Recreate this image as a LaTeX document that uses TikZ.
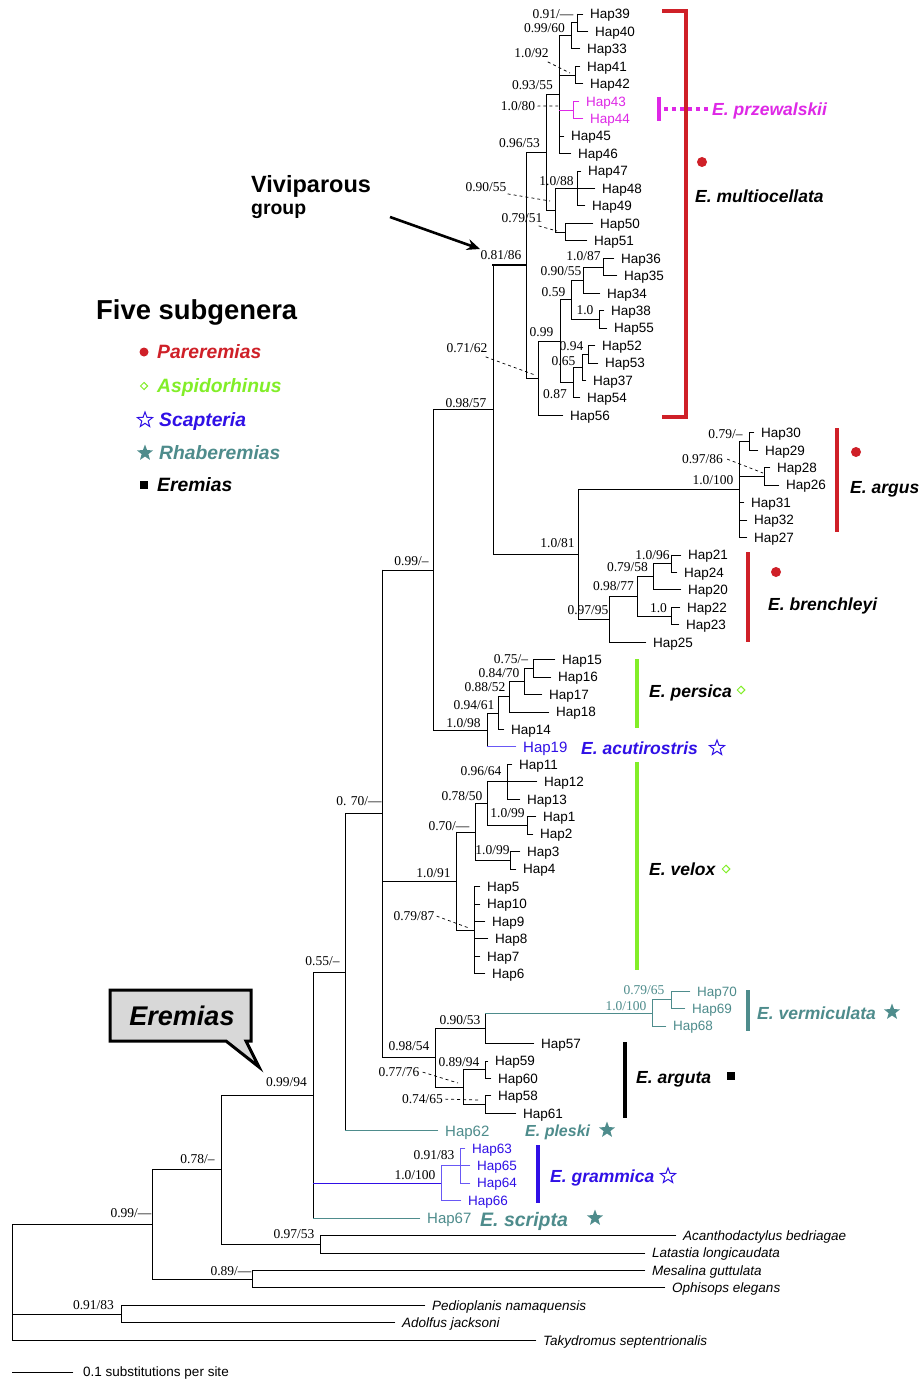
\documentclass[tikz,border=0pt]{standalone}
\usepackage{fontspec}
\setmainfont{Liberation Serif}
\setsansfont{Liberation Sans}
\usetikzlibrary{calc,shapes.geometric,arrows.meta}
\definecolor{cred}{RGB}{207,32,40}
\definecolor{cmag}{RGB}{222,40,230}
\definecolor{cgreen}{RGB}{130,238,40}
\definecolor{cblue}{RGB}{48,16,230}
\definecolor{clblue}{RGB}{105,88,245}
\definecolor{cteal}{RGB}{78,140,140}
\definecolor{cgray}{RGB}{216,216,216}
\newcommand\tipn[5][]{\coordinate (t#2) at ({#3-7},{14+17.45*#4}); \node[tip,#1] (L#2) at (#3,{14+17.45*#4}) {#5};}
\newcommand\inode[5][]{\path let \p1=($(#4)!.5!(#5)$) in (#3pt,\y1) coordinate (#2); \draw[br,#1] (#2 |- #4) -- (#2 |- #5);}
\newcommand\hl[3][]{\draw[br,#1] (#2 |- #3) -- (#3);}
\newcommand\sv[5][]{\node[sup,#1] (#2) at (#3,#4) {#5};}
\begin{document}
\begin{tikzpicture}[x=1pt,y=-1pt,
 br/.style={line width=0.9pt, line cap=rect},
 tip/.style={font=\sffamily\fontsize{13.5}{16}\selectfont, anchor=base west, inner sep=0pt, yshift=-4.8pt},
 tipi/.style={font=\sffamily\itshape\fontsize{13.5}{16}\selectfont},
 tipb/.style={font=\sffamily\fontsize{15}{17}\selectfont, yshift=-0.5pt},
 sup/.style={font=\fontsize{13.5}{16}\selectfont, anchor=base, inner sep=0pt, yshift=-4.5pt},
 clade/.style={font=\sffamily\bfseries\itshape\fontsize{17.5}{20}\selectfont, anchor=base west, inner sep=0pt, yshift=-6.3pt},
 leg/.style={font=\sffamily\bfseries\itshape\fontsize{19.3}{22}\selectfont, anchor=base west, inner sep=0pt, yshift=-6.9pt},
 bar/.style={line width=4pt},
 dsh/.style={line width=0.7pt, dash pattern=on 3pt off 3pt},
 dot/.style={circle, fill=cred, minimum size=10pt, inner sep=0pt},
 dia/.style={diamond, draw=cgreen, line width=1pt, minimum size=8pt, inner sep=0pt},
 ostar/.style={star, star points=5, star point ratio=2.4, draw=cblue, line width=1pt, minimum size=16pt, inner sep=0pt},
 fstar/.style={star, star points=5, star point ratio=2.4, fill=cteal, minimum size=17pt, inner sep=0pt},
 sq/.style={rectangle, fill=black, minimum size=8pt, inner sep=0pt}]
\useasboundingbox[fill=white] (0,0) rectangle (922,1380);

% ---------------- tips ----------------
\tipn{39}{590}{0}{Hap39}
\tipn{40}{595}{1}{Hap40}
\tipn{33}{587}{2}{Hap33}
\tipn{41}{587}{3}{Hap41}
\tipn{42}{590}{4}{Hap42}
\tipn[cmag]{43}{586}{5}{Hap43}
\tipn[cmag]{44}{590}{6}{Hap44}
\tipn{45}{571}{7}{Hap45}
\tipn{46}{578}{8}{Hap46}
\tipn{47}{588}{9}{Hap47}
\tipn{48}{602}{10}{Hap48}
\tipn{49}{592}{11}{Hap49}
\tipn{50}{600}{12}{Hap50}
\tipn{51}{594}{13}{Hap51}
\tipn{36}{621}{14}{Hap36}
\tipn{35}{624}{15}{Hap35}
\tipn{34}{607}{16}{Hap34}
\tipn{38}{611}{17}{Hap38}
\tipn{55}{614}{18}{Hap55}
\tipn{52}{602}{19}{Hap52}
\tipn{53}{605}{20}{Hap53}
\tipn{37}{593}{21}{Hap37}
\tipn{54}{587}{22}{Hap54}
\tipn{56}{570}{23}{Hap56}
\tipn{30}{761}{24}{Hap30}
\tipn{29}{765}{25}{Hap29}
\tipn{28}{777}{26}{Hap28}
\tipn{26}{786}{27}{Hap26}
\tipn{31}{751}{28}{Hap31}
\tipn{32}{754}{29}{Hap32}
\tipn{27}{754}{30}{Hap27}
\tipn{21}{688}{31}{Hap21}
\tipn{24}{684}{32}{Hap24}
\tipn{20}{688}{33}{Hap20}
\tipn{22}{687}{34}{Hap22}
\tipn{23}{686}{35}{Hap23}
\tipn{25}{653}{36}{Hap25}
\tipn{15}{562}{37}{Hap15}
\tipn{16}{558}{38}{Hap16}
\tipn{17}{549}{39}{Hap17}
\tipn{18}{556}{40}{Hap18}
\tipn{14}{511}{41}{Hap14}
\tipn[cblue,tipb]{19}{523}{42}{Hap19}
\tipn{11}{519}{43}{Hap11}
\tipn{12}{544}{44}{Hap12}
\tipn{13}{527}{45}{Hap13}
\tipn{1}{543}{46}{Hap1}
\tipn{2}{540}{47}{Hap2}
\tipn{3}{527}{48}{Hap3}
\tipn{4}{523}{49}{Hap4}
\tipn{5}{487}{50}{Hap5}
\tipn{10}{487}{51}{Hap10}
\tipn{9}{492}{52}{Hap9}
\tipn{8}{495}{53}{Hap8}
\tipn{7}{487}{54}{Hap7}
\tipn{6}{492}{55}{Hap6}
\tipn[cteal]{70}{697}{56}{Hap70}
\tipn[cteal]{69}{692}{57}{Hap69}
\tipn[cteal]{68}{673}{58}{Hap68}
\tipn{57}{541}{59}{Hap57}
\tipn{59}{495}{60}{Hap59}
\tipn{60}{498}{61}{Hap60}
\tipn{58}{498}{62}{Hap58}
\tipn{61}{523}{63}{Hap61}
\tipn[cteal,tipb]{62}{445}{64}{Hap62}
\tipn[cblue]{63}{472}{65}{Hap63}
\tipn[cblue]{65}{477}{66}{Hap65}
\tipn[cblue]{64}{477}{67}{Hap64}
\tipn[cblue]{66}{468}{68}{Hap66}
\tipn[cteal,tipb]{67}{427}{69}{Hap67}
\tipn[tipi]{Aca}{683}{70}{Acanthodactylus bedriagae}
\tipn[tipi]{Lat}{652}{71}{Latastia longicaudata}
\tipn[tipi]{Mes}{652}{72}{Mesalina guttulata}
\tipn[tipi]{Oph}{672}{73}{Ophisops elegans}
\tipn[tipi]{Ped}{432}{74}{Pedioplanis namaquensis}
\tipn[tipi]{Ado}{402}{75}{Adolfus jacksoni}
\tipn[tipi]{Tak}{543}{76}{Takydromus septentrionalis}

% ---------------- tree ----------------
\inode{nA}{577}{t39}{t40} \hl{nA}{t39} \hl{nA}{t40}
\inode{nB}{571}{nA}{t33} \hl{nB}{nA} \hl{nB}{t33}
\inode{nD}{575}{t41}{t42} \hl{nD}{t41} \hl{nD}{t42}
\inode[cmag]{nM}{573}{t43}{t44} \hl[cmag]{nM}{t43} \hl[cmag]{nM}{t44}
\inode{nC}{559}{nB}{t46} \hl{nC}{nB} \hl{nC}{nD} \hl[cmag]{nC}{nM} \hl{nC}{t45} \hl{nC}{t46}
\inode{nH}{577}{t47}{t49} \hl{nH}{t47} \hl{nH}{t48} \hl{nH}{t49}
\inode{nS}{565}{t50}{t51} \hl{nS}{t50} \hl{nS}{t51}
\inode{nF}{555}{nH}{nS} \hl{nF}{nH} \hl{nF}{nS}
\inode{nE}{546}{nC}{nF} \hl{nE}{nC} \hl{nE}{nF}
\inode{nO}{603}{t36}{t35} \hl{nO}{t36} \hl{nO}{t35}
\inode{nMM}{583}{nO}{t34} \hl{nMM}{nO} \hl{nMM}{t34}
\inode{nN}{599}{t38}{t55} \hl{nN}{t38} \hl{nN}{t55}
\inode{nK}{571}{nMM}{nN} \hl{nK}{nMM} \hl{nK}{nN}
\inode{nR}{588}{t52}{t53} \hl{nR}{t52} \hl{nR}{t53}
\inode{nQ}{582}{nR}{t37} \hl{nQ}{nR} \hl{nQ}{t37}
\inode{nP}{573}{nQ}{t54} \hl{nP}{nQ} \hl{nP}{t54}
\inode{nJ}{560}{nK}{nP} \hl{nJ}{nK} \hl{nJ}{nP}
\inode{nI}{538}{nJ}{t56} \hl{nI}{nJ} \hl{nI}{t56}
\inode{nG}{526}{nE}{nI} \hl{nG}{nE} \hl{nG}{nI}
\inode{nZ}{749}{t30}{t29} \hl{nZ}{t30} \hl{nZ}{t29}
\inode{nAA}{764}{t28}{t26} \hl{nAA}{t28} \hl{nAA}{t26}
\inode{nY}{739}{nZ}{t27} \hl{nY}{nZ} \hl{nY}{nAA} \hl{nY}{t31} \hl{nY}{t32} \hl{nY}{t27}
\inode{nAE}{671}{t21}{t24} \hl{nAE}{t21} \hl{nAE}{t24}
\inode{nAC}{653}{nAE}{t20} \hl{nAC}{nAE} \hl{nAC}{t20}
\inode{nAD}{671}{t22}{t23} \hl{nAD}{t22} \hl{nAD}{t23}
\inode{nAB}{637}{nAC}{nAD} \hl{nAB}{nAC} \hl{nAB}{nAD}
\inode{nX}{609}{nAB}{t25} \hl{nX}{nAB} \hl{nX}{t25}
\inode{nW}{578}{nY}{nX} \hl{nW}{nY} \hl{nW}{nX}
\inode{nV}{493}{nG}{nW} \hl[line width=2.2pt]{nV}{nG} \hl{nV}{nW}
\inode{nHH}{533}{t15}{t16} \hl{nHH}{t15} \hl{nHH}{t16}
\inode{nGG}{524}{nHH}{t17} \hl{nGG}{nHH} \hl{nGG}{t17}
\inode{nFF}{509}{nGG}{t18} \hl{nFF}{nGG} \hl{nFF}{t18}
\inode{nEE}{498}{nFF}{t14} \hl{nEE}{nFF} \hl{nEE}{t14}
\inode{nCC}{487}{nEE}{t19} \hl{nCC}{nEE} \hl[clblue]{nCC}{t19}
\inode{nBB}{433}{nV}{nCC} \hl{nBB}{nV} \hl{nBB}{nCC}
\inode{nVV}{507}{t11}{t13} \hl{nVV}{t11} \hl{nVV}{t12} \hl{nVV}{t13}
\inode{nWW}{527}{t1}{t2} \hl{nWW}{t1} \hl{nWW}{t2}
\inode{nTT}{487}{nVV}{nWW} \hl{nTT}{nVV} \hl{nTT}{nWW}
\inode{nUU}{510}{t3}{t4} \hl{nUU}{t3} \hl{nUU}{t4}
\inode{nRR}{475}{nTT}{nUU} \hl{nRR}{nTT} \hl{nRR}{nUU}
\inode{nSS}{474}{t5}{t6} \hl{nSS}{t5} \hl{nSS}{t10} \hl{nSS}{t9} \hl{nSS}{t8} \hl{nSS}{t7} \hl{nSS}{t6}
\inode{nII}{456}{nRR}{nSS} \hl{nII}{nRR} \hl{nII}{nSS}
\inode[cteal]{nV70}{671}{t70}{t69} \hl[cteal]{nV70}{t70} \hl[cteal]{nV70}{t69}
\inode[cteal]{nVm}{652}{nV70}{t68} \hl[cteal]{nVm}{nV70} \hl[cteal]{nVm}{t68}
\inode{nPP}{485}{nVm}{t57} \hl[cteal]{nPP}{nVm} \hl{nPP}{t57}
\inode{nA59}{485}{t59}{t60} \hl{nA59}{t59} \hl{nA59}{t60}
\inode{nA58}{485}{t58}{t61} \hl{nA58}{t58} \hl{nA58}{t61}
\inode{nQQ}{463}{nA59}{nA58} \hl{nQQ}{nA59} \hl{nQQ}{nA58}
\inode{nOO}{435}{nPP}{nQQ} \hl{nOO}{nPP} \hl{nOO}{nQQ}
\inode{nNN}{382}{nBB}{nOO} \hl{nNN}{nBB} \hl{nNN}{nII} \hl{nNN}{nOO}
\inode{nKK}{345}{nNN}{t62} \hl{nKK}{nNN} \hl[cteal]{nKK}{t62}
\inode[clblue]{nG3}{460}{t63}{t64} \hl[clblue]{nG3}{t63} \hl[clblue]{nG3}{t65} \hl[clblue]{nG3}{t64}
\inode[clblue]{nGr}{441}{nG3}{t66} \hl[clblue]{nGr}{nG3} \hl[clblue]{nGr}{t66}
\inode{nLL}{313}{nKK}{t67} \hl{nLL}{nKK} \hl[cblue]{nLL}{nGr} \hl[cteal]{nLL}{t67}
\inode{nYY}{320}{tAca}{tLat} \hl{nYY}{tAca} \hl{nYY}{tLat}
\inode{nXX}{221}{nLL}{nYY} \hl{nXX}{nLL} \hl{nXX}{nYY}
\inode{nAAA}{252}{tMes}{tOph} \hl{nAAA}{tMes} \hl{nAAA}{tOph}
\inode{nZZ}{152}{nXX}{nAAA} \hl{nZZ}{nXX} \hl{nZZ}{nAAA}
\inode{nBBB}{121}{tPed}{tAdo} \hl{nBBB}{tPed} \hl{nBBB}{tAdo}
\inode{nRoot}{12}{nZZ}{tTak} \hl{nRoot}{nZZ} \hl{nRoot}{nBBB} \hl{nRoot}{tTak}

% ---------------- support values ----------------
\sv{s1}{553}{14}{0.91/—}
\sv{s2}{544.5}{28}{0.99/60}
\sv{s3}{531.5}{53}{1.0/92}
\sv{s4}{532.5}{85}{0.93/55}
\sv{s5}{518}{106}{1.0/80}
\sv{s6}{519.5}{143}{0.96/53}
\sv{s7}{556.5}{181}{1.0/88}
\sv{s8}{486}{187}{0.90/55}
\sv{s9}{522}{218}{0.79/51}
\sv{s10}{501}{255}{0.81/86}
\sv{s11}{583.5}{256}{1.0/87}
\sv{s12}{561}{271}{0.90/55}
\sv{s13}{553.5}{292}{0.59}
\sv{s14}{585}{310}{1.0}
\sv{s15}{541.5}{332}{0.99}
\sv{s16}{467}{348}{0.71/62}
\sv{s17}{571.5}{346}{0.94}
\sv{s18}{563.5}{361}{0.65}
\sv{s19}{555}{394}{0.87}
\sv{s20}{466}{403}{0.98/57}
\sv{s21}{725.5}{434}{0.79/–}
\sv{s22}{702.5}{459}{0.97/86}
\sv{s23}{713}{480}{1.0/100}
\sv{s24}{557.5}{543}{1.0/81}
\sv{s25}{652.5}{555}{1.0/96}
\sv{s26}{627.5}{567}{0.79/58}
\sv{s27}{613.5}{586}{0.98/77}
\sv{s28}{658.5}{608}{1.0}
\sv{s29}{588}{610}{0.97/95}
\sv{s30}{511}{659}{0.75/–}
\sv{s31}{499}{673}{0.84/70}
\sv{s32}{485}{687}{0.88/52}
\sv{s33}{474}{705}{0.94/61}
\sv{s34}{463.5}{723}{1.0/98}
\sv{s35}{411.5}{561}{0.99/–}
\sv{s36}{481}{771}{0.96/64}
\sv{s37}{462}{796}{0.78/50}
\sv{s38}{507.5}{813}{1.0/99}
\sv{s39}{449}{826}{0.70/—}
\sv{s40}{492.5}{850}{1.0/99}
\sv{s41}{433.5}{873}{1.0/91}
\sv{s42}{414}{916}{0.79/87}
\sv{s43}{359}{801}{0. 70/—}
\sv{s44}{322.5}{961}{0.55/–}
\sv[cteal]{s45}{644}{990}{0.79/65}
\sv[cteal]{s46}{626}{1006}{1.0/100}
\sv{s47}{460}{1020}{0.90/53}
\sv{s48}{409}{1046}{0.98/54}
\sv{s49}{459}{1062}{0.89/94}
\sv{s50}{399}{1072}{0.77/76}
\sv{s51}{422.5}{1099}{0.74/65}
\sv{s52}{286.5}{1082}{0.99/94}
\sv{s53}{434}{1155}{0.91/83}
\sv{s54}{415}{1175}{1.0/100}
\sv{s55}{197.5}{1159}{0.78/–}
\sv{s56}{131}{1213}{0.99/—}
\sv{s57}{294}{1234}{0.97/53}
\sv{s58}{231}{1271}{0.89/—}
\sv{s59}{93.5}{1305}{0.91/83}

% dashed pointers
\coordinate (p3) at (570,73);
\coordinate (p5) at (558,106);
\coordinate (p8) at (550,201);
\coordinate (p9) at (557,231);
\coordinate (p16) at (535,375);
\coordinate (p22) at (763,473);
\coordinate (p42) at (469,928);
\coordinate (p50) at (458,1083);
\coordinate (p51) at (478,1100);
\draw[dsh] ([xshift=-1pt,yshift=-4pt]s3.south east) -- (p3);
\draw[dsh] ([xshift=2pt]s5.east) -- (p5);
\draw[dsh] ([xshift=1pt,yshift=-2pt]s8.south east) -- (p8);
\draw[dsh] ([xshift=-4pt,yshift=-3pt]s9.south east) -- (p9);
\draw[dsh] ([xshift=-2pt,yshift=-4pt]s16.south east) -- (p16);
\draw[dsh] ([xshift=4pt]s22.east) -- (p22);
\draw[dsh] ([xshift=2pt]s42.east) -- (p42);
\draw[dsh] ([xshift=3pt]s50.east) -- (p50);
\draw[dsh] ([xshift=2pt]s51.east) -- (p51);

% ---------------- clade bars and labels ----------------
\draw[cred,bar] (662,11) -- (686,11) -- (686,417) -- (662,417);
\draw[cmag,bar] (659,97) -- (659,121);
\draw[cmag,line width=3.5pt,dash pattern=on 4pt off 4pt] (664,109) -- (708,109);
\node[clade,cmag] (Lprz) at (712,109) {E. przewalskii};
\node[dot] (d1) at (702,162) {};
\node[clade] (Lmul) at (695,196) {E. multiocellata};
\draw[cred,bar] (837,428) -- (837,532);
\node[dot] (d2) at (856,452) {};
\node[clade] (Larg) at (850,487) {E. argus};
\draw[cred,bar] (748,552) -- (748,642);
\node[dot] (d3) at (776,572) {};
\node[clade] (Lbre) at (768,604) {E. brenchleyi};
\draw[cgreen,bar] (637,659) -- (637,728);
\node[clade] (Lper) at (649,691) {E. persica};
\node[dia] (g1) at (741,690) {};
\node[clade,cblue] (Lacu) at (581,748) {E. acutirostris};
\node[ostar] (b1) at (717,748) {};
\draw[cgreen,bar] (637,762) -- (637,970);
\node[clade] (Lvel) at (649,869) {E. velox};
\node[dia] (g2) at (726,869) {};
\draw[cteal,bar] (748,990) -- (748,1031);
\node[clade,cteal] (Lver) at (757,1013) {E. vermiculata};
\node[fstar] (f1) at (892,1012) {};
\draw[black,bar] (625,1042) -- (625,1118);
\node[clade] (Largu) at (636,1077) {E. arguta};
\node[sq] (q1) at (731,1076) {};
\node[clade,cteal,font=\sffamily\bfseries\itshape\fontsize{16}{19}\selectfont,yshift=0.5pt] (Lple) at (525,1131) {E. pleski};
\node[fstar] (f2) at (607,1130) {};
\draw[cblue,bar] (538,1145) -- (538,1203);
\node[clade,cblue] (Lgra) at (550,1176) {E. grammica};
\node[ostar] (b2) at (668,1176) {};
\node[clade,cteal,font=\sffamily\bfseries\itshape\fontsize{19.5}{22}\selectfont,yshift=-0.7pt] (Lscr) at (480,1219) {E. scripta};
\node[fstar] (f3) at (595,1218) {};

% ---------------- viviparous ----------------
\node[font=\sffamily\bfseries\fontsize{23.5}{26}\selectfont, anchor=base west, inner sep=0pt] (viv) at (251,192.5) {Viviparous};
\node[font=\sffamily\bfseries\fontsize{19.4}{22}\selectfont, anchor=base west, inner sep=0pt] (grp) at (251,215) {group};
\coordinate (va) at (390,217);
\coordinate (vb) at (480,249);
\draw[line width=2.6pt, -{Stealth[length=13pt,width=11pt]}] (va) -- (vb);

% ---------------- legend ----------------
\node[font=\sffamily\bfseries\fontsize{27.4}{30}\selectfont, anchor=base west, inner sep=0pt] (five) at (96,319.8) {Five subgenera};
\node[dot,minimum size=9pt] (ld1) at (144,352) {};
\node[leg,cred] (lt1) at (157,352) {Pareremias};
\node[dia,minimum size=7.5pt] (ld2) at (144,386) {};
\node[leg,cgreen] (lt2) at (157,386) {Aspidorhinus};
\node[ostar] (ld3) at (145,420) {};
\node[leg,cblue] (lt3) at (159,420) {Scapteria};
\node[fstar] (ld4) at (145,453) {};
\node[leg,cteal] (lt4) at (159,453) {Rhaberemias};
\node[sq] (ld5) at (144,485) {};
\node[leg] (lt5) at (157,485) {Eremias};

% ---------------- Eremias callout ----------------
\draw[line width=3pt, fill=cgray, line join=miter] (110,990) -- (251,990) -- (251,1041) -- (246,1041) -- (259,1067) -- (226,1041) -- (110,1041) -- cycle;
\node[font=\sffamily\bfseries\itshape\fontsize{27}{30}\selectfont, inner sep=0pt] (ere) at (182,1016) {Eremias};

% ---------------- scale bar ----------------
\coordinate (sb1) at (12,1372);
\coordinate (sb2) at (73,1372);
\draw[br] (sb1) -- (sb2);
\node[tip] (sbl) at (83,1372) {0.1 substitutions per site};
\end{tikzpicture}
\end{document}
